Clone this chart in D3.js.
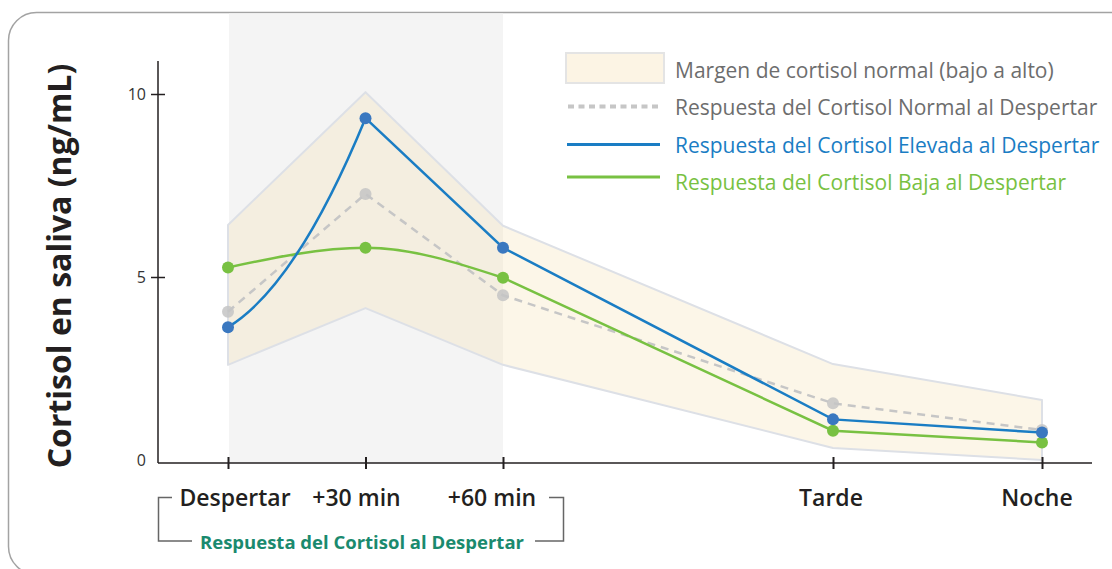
<!DOCTYPE html>
<html lang="es">
  <head>
    <meta charset="UTF-8" />
    <script src="https://d3js.org/d3.v7.min.js"></script>
    <title>Cortisol en saliva</title>
    <style>
      body { margin: 0; background: #fff; }
      svg { display: block; font-family: 'Open Sans', sans-serif; }
    </style>
  </head>
  <body>
    <script>
      // momentos del dia (unidades del eje, comprimidas despues de +60 min)
      const labels = ['Despertar', '+30 min', '+60 min', 'Tarde', 'Noche']
      const times = [0, 0.5, 1, 2.2, 2.96]

      // margen normal (bajo / alto), ng/mL
      const rangeLow = [2.6, 4.15, 2.6, 0.33, 0.0]
      const rangeHigh = [6.42, 10.05, 6.4, 2.62, 1.64]

      // series
      const normalCAR = [4.05, 7.27, 4.5, 1.55, 0.82]
      const elevatedCAR = [3.63, 9.34, 5.8, 1.11, 0.75]
      const lowCAR = [5.26, 5.8, 4.98, 0.8, 0.48]

      const yTicks = [0, 5, 10]

      const width = 1112
      const height = 569

      const svg = d3.select('body')
        .append('svg')
        .attr('width', width)
        .attr('height', height)

      const x = d3.scaleLinear().domain([0, 1]).range([228, 503])
      const y = d3.scaleLinear().domain([0, 10]).range([460, 94])
      const axisY = 463
      const axisX = 158

      // curva: primer tramo con subida tardia, el resto recto
      function curveLateRise(context) {
        let pts = []
        return {
          areaStart() {}, areaEnd() {},
          lineStart() { pts = [] },
          point(px, py) { pts.push([px, py]) },
          lineEnd() {
            pts.forEach((p, i) => {
              if (i === 0) context.moveTo(p[0], p[1])
              else if (i === 1) {
                const q = pts[0]
                context.quadraticCurveTo((q[0] + p[0]) / 2, q[1] + 0.2 * (p[1] - q[1]), p[0], p[1])
              } else context.lineTo(p[0], p[1])
            })
          }
        }
      }

      // tarjeta
      svg.append('rect')
        .attr('x', 8.5).attr('y', 12.5)
        .attr('width', 1200).attr('height', 562)
        .attr('rx', 28)
        .attr('fill', 'none')
        .attr('stroke', '#a3a3a3')
        .attr('stroke-width', 1.5)

      // zona de respuesta al despertar
      svg.append('rect')
        .attr('x', x(0) + 1)
        .attr('y', 13.5)
        .attr('width', x(1) - x(0) - 1)
        .attr('height', axisY - 13.5)
        .attr('fill', '#f4f4f4')

      const pts = (arr) => arr.map((v, i) => [times[i], v])

      // margen normal
      const band = d3.area()
        .x((d, i) => x(times[i]))
        .y0(d => y(d[0]))
        .y1(d => y(d[1]))
      svg.append('path')
        .datum(rangeLow.map((v, i) => [v, rangeHigh[i]]))
        .attr('d', band)
        .attr('fill', '#f5e2b2')
        .attr('fill-opacity', 0.3)
        .attr('stroke', '#dde0e6')
        .attr('stroke-width', 2)
        .attr('stroke-linejoin', 'round')

      // ejes
      svg.append('line')
        .attr('x1', axisX).attr('x2', axisX)
        .attr('y1', 61).attr('y2', axisY)
        .attr('stroke', '#231f20').attr('stroke-width', 1.5)
      svg.append('line')
        .attr('x1', axisX).attr('x2', 1092)
        .attr('y1', axisY).attr('y2', axisY)
        .attr('stroke', '#231f20').attr('stroke-width', 1.5)

      const yAxis = svg.append('g')
        .attr('transform', `translate(${axisX},0)`)
        .call(d3.axisLeft(y).tickValues(yTicks).tickSize(0).tickPadding(12))
      yAxis.select('.domain').remove()
      yAxis.selectAll('text')
        .attr('font-size', 16)
        .attr('fill', '#333')
        .attr('font-family', "'Open Sans', sans-serif")
      yAxis.selectAll('.tick')
        .filter(d => d > 0)
        .select('line')
        .attr('x1', -7).attr('x2', 7)
        .attr('stroke', '#231f20').attr('stroke-width', 1.5)

      const xAxis = svg.append('g')
        .attr('transform', `translate(0,${axisY})`)
        .call(d3.axisBottom(x).tickValues(times).tickSize(0).tickFormat(''))
      xAxis.select('.domain').remove()
      xAxis.selectAll('.tick line')
        .attr('y1', -6).attr('y2', 6)
        .attr('stroke', '#231f20').attr('stroke-width', 2)

      // etiquetas del eje x
      const labelShift = [7, -9, -11, -2, -5]
      svg.append('g')
        .selectAll('text')
        .data(labels)
        .join('text')
        .attr('x', (d, i) => x(times[i]) + labelShift[i])
        .attr('y', 506)
        .attr('text-anchor', 'middle')
        .attr('font-size', 23)
        .attr('font-weight', 600)
        .attr('fill', '#231f20')
        .text(d => d)

      // corchete
      const br = svg.append('g')
        .attr('fill', 'none')
        .attr('stroke', '#666')
        .attr('stroke-width', 1.5)
      br.append('path').attr('d', 'M172,497.5 H158.5 V541 H192')
      br.append('path').attr('d', 'M549,497.5 H563.5 V541 H535')
      svg.append('text')
        .attr('x', 362)
        .attr('y', 549)
        .attr('text-anchor', 'middle')
        .attr('font-size', 18.5)
        .attr('font-weight', 700)
        .attr('fill', '#1a8a6e')
        .text('Respuesta del Cortisol al Despertar')

      // titulo eje y
      svg.append('text')
        .attr('transform', 'translate(71,266) rotate(-90)')
        .attr('text-anchor', 'middle')
        .attr('font-size', 32)
        .attr('font-weight', 700)
        .attr('fill', '#231f20')
        .text('Cortisol en saliva (ng/mL)')

      const line = (curve) => d3.line()
        .x(d => x(d[0]))
        .y(d => y(d[1]))
        .curve(curve)

      const drawLine = (data, curve, color, dash) => svg.append('path')
        .datum(data)
        .attr('d', line(curve))
        .attr('fill', 'none')
        .attr('stroke', color)
        .attr('stroke-width', 2.5)
        .attr('stroke-dasharray', dash)

      const drawDots = (data, color, op) => svg.append('g')
        .selectAll('circle')
        .data(data)
        .join('circle')
        .attr('cx', d => x(d[0]))
        .attr('cy', d => y(d[1]))
        .attr('r', 6)
        .attr('fill', color)
        .attr('fill-opacity', op)

      // normal (discontinua)
      drawLine(pts(normalCAR), d3.curveLinear, '#c6c6c6', '8,6')
      drawDots(pts(normalCAR), '#c4c4c4', 0.85)

      // baja: suave en la primera hora, recta despues
      const low = pts(lowCAR)
      drawLine(low.slice(0, 3), d3.curveMonotoneX, '#78c142', null)
      drawLine(low.slice(2), d3.curveLinear, '#78c142', null)
      drawDots(low, '#78c142', 1)

      // elevada
      drawLine(pts(elevatedCAR), curveLateRise, '#1a7dc4', null)
      drawDots(pts(elevatedCAR), '#3a78c0', 1)

      // leyenda
      const legend = svg.append('g')
      legend.append('rect')
        .attr('x', 566).attr('y', 53)
        .attr('width', 98).attr('height', 30)
        .attr('fill', '#fcf4e4')
        .attr('stroke', '#e4e4e4')
        .attr('stroke-width', 2)
      legend.append('line')
        .attr('x1', 568).attr('x2', 658)
        .attr('y1', 106.5).attr('y2', 106.5)
        .attr('stroke', '#c6c6c6').attr('stroke-width', 4)
        .attr('stroke-dasharray', '6,4.5')
      legend.append('line')
        .attr('x1', 567).attr('x2', 660)
        .attr('y1', 144.5).attr('y2', 144.5)
        .attr('stroke', '#1a7dc4').attr('stroke-width', 3)
      legend.append('line')
        .attr('x1', 567).attr('x2', 660)
        .attr('y1', 177).attr('y2', 177)
        .attr('stroke', '#78c142').attr('stroke-width', 3)

      const legendText = [
        ['Margen de cortisol normal (bajo a alto)', '#6d6d6d', 78],
        ['Respuesta del Cortisol Normal al Despertar', '#6d6d6d', 115],
        ['Respuesta del Cortisol Elevada al Despertar', '#1a7dc4', 153],
        ['Respuesta del Cortisol Baja al Despertar', '#78c142', 190]
      ]
      legend.selectAll('text')
        .data(legendText)
        .join('text')
        .attr('x', 675)
        .attr('y', d => d[2])
        .attr('font-size', 21)
        .attr('fill', d => d[1])
        .text(d => d[0])
    </script>
  </body>
</html>
